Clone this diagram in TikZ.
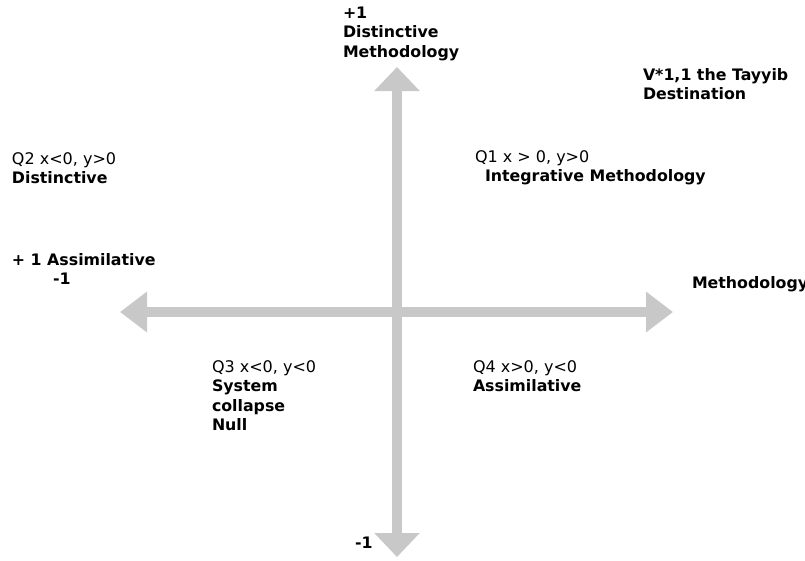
\documentclass[tikz,border=0pt]{standalone}
\usepackage{fontspec}
\setmainfont{DejaVu Sans}
\usetikzlibrary{arrows.meta}
\definecolor{axisgray}{RGB}{200,200,200}
\newcommand\rg{\fontsize{16}{19.5}\selectfont\mdseries}
\newcommand\bd{\fontsize{15.8}{19.5}\selectfont\bfseries}
\newcommand\lines[1]{\begin{tabular}[t]{@{}l@{}}#1\end{tabular}}
\tikzset{
  lbl/.style={anchor=base west, inner sep=0pt, outer sep=0pt, text=black, font=\rg},
  vaxis/.style={draw=axisgray, line width=10.5pt,
    {Triangle[length=24pt,width=44pt]}-{Triangle[length=24pt,width=44pt]}},
  haxis/.style={draw=axisgray, line width=10pt,
    {Triangle[length=27pt,width=39pt]}-{Triangle[length=27pt,width=39pt]}}
}
\begin{document}
\begin{tikzpicture}[x=1pt,y=-1pt]
\fill[white] (0,0) rectangle (805,560);
\useasboundingbox (0,0) rectangle (805,560);
% axes
\coordinate (vtop) at (397,67);
\coordinate (vbot) at (397,557);
\coordinate (hleft) at (120,312);
\coordinate (hright) at (673,312);
\draw[haxis] (hleft) -- (hright);
\draw[vaxis] (vtop) -- (vbot);
% labels
\node[lbl] (top) at (343,18) {\lines{\bd +1\\ \bd Distinctive\\ \bd Methodology}};
\node[lbl] (dest) at (643,80) {\lines{\bd V*1,1 the Tayyib\\ \bd Destination}};
\node[lbl] (q2) at (12,164) {\lines{\rg Q2 x<0, y>0\\ \bd Distinctive}};
\node[lbl] (q1) at (475,162) {\lines{\rg Q1 x > 0, y>0\\ \hspace*{10pt}\bd Integrative Methodology}};
\node[lbl] (assim) at (12,265) {\lines{\bd + 1 Assimilative\\ \hspace*{41pt}\bd -1}};
\node[lbl] (meth) at (692,288) {\bd Methodology};
\node[lbl] (q3) at (212,372) {\lines{\rg Q3 x<0, y<0\\ \bd System\\ \bd collapse\\ \bd Null}};
\node[lbl] (q4) at (473,372) {\lines{\rg Q4 x>0, y<0\\ \bd Assimilative}};
\node[lbl] (bot) at (355,548) {\bd -1};
\end{tikzpicture}
\end{document}
